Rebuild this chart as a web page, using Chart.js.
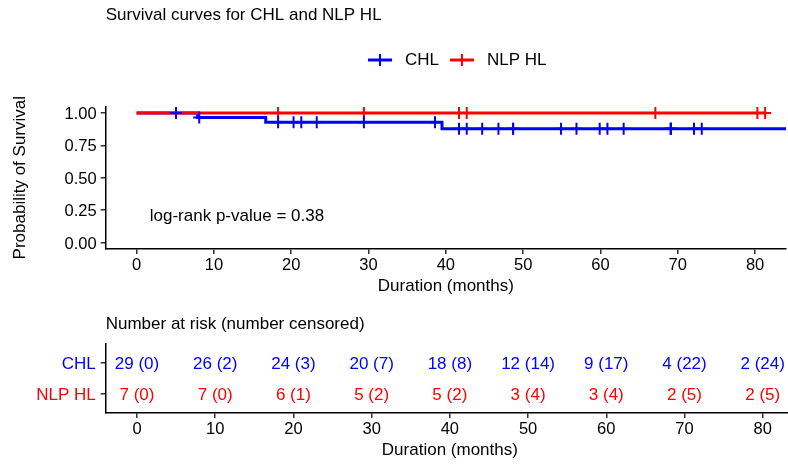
<!DOCTYPE html>
<html>
<head>
<meta charset="utf-8">
<script src="https://cdn.jsdelivr.net/npm/chart.js@4.4.0/dist/chart.umd.min.js"></script>
<style>
  html, body { margin: 0; padding: 0; background: #fff; overflow: hidden; }
  #wrap { position: relative; width: 788px; height: 464px; overflow: hidden; }
  .box { position: absolute; left: 0; width: 794px; }
  #top { top: 0; height: 300px; }
  #bottom { top: 300px; height: 164px; }
</style>
</head>
<body>
<div id="wrap">
  <div class="box" id="top"><canvas id="kmChart"></canvas></div>
  <div class="box" id="bottom"><canvas id="riskChart"></canvas></div>
</div>
<script>
// Groups
const groupNames = ['CHL', 'NLP HL'];
const groupColors = ['#0000ff', '#ff0000'];

// Kaplan-Meier steps (months, survival probability)
const chlTimes = [0, 7.9, 16.7, 39.5, 86];
const chlSurv = [1, 0.964, 0.927, 0.878, 0.878];
const nlpTimes = [0, 81.3];
const nlpSurv = [1, 1];

// Censoring times (months)
const chlCensorTimes = [5.1, 8.1, 18.3, 20.3, 21.3, 23.3, 29.4, 38.6, 41.7, 42.7, 44.7, 46.8, 48.7, 48.7,
  54.9, 56.9, 59.9, 60.9, 63.0, 69.1, 69.1, 69.1, 72.1, 73.1];
const nlpCensorTimes = [18.3, 29.4, 41.7, 42.7, 67.1, 80.3, 81.3];

// Number at risk table
const riskTimes = [0, 10, 20, 30, 40, 50, 60, 70, 80];
const chlAtRisk = [29, 26, 24, 20, 18, 12, 9, 4, 2];
const chlCensored = [0, 2, 3, 7, 8, 14, 17, 22, 24];
const nlpAtRisk = [7, 7, 6, 5, 5, 3, 3, 2, 2];
const nlpCensored = [0, 0, 1, 2, 2, 4, 4, 5, 5];

// Axis ticks
const timeTicks = [0, 10, 20, 30, 40, 50, 60, 70, 80];
const survTicks = [0, 0.25, 0.5, 0.75, 1];

const pValue = 0.38;

const FONT = '"Liberation Sans", Arial, Helvetica, sans-serif';
Chart.defaults.font.family = FONT;
Chart.defaults.font.size = 17;
Chart.defaults.color = '#000';

function survAt(times, surv, t) {
    let s = surv[0];
    for (let i = 0; i < times.length; i++) {
        if (times[i] <= t) s = surv[i];
    }
    return s;
}

function toPoints(xs, ys) {
    return xs.map((x, i) => ({ x: x, y: ys[i] }));
}

// shared x axis look (same for both panels)
function timeAxis() {
    return {
        type: 'linear',
        min: -4,
        max: 84,
        afterBuildTicks: s => { s.ticks = timeTicks.map(v => ({ value: v })); },
        afterFit: s => { s.height = 51; },
        border: { color: '#000', width: 1.5 },
        grid: { drawOnChartArea: false, drawTicks: true, tickLength: 5, color: '#333', lineWidth: 1.5 },
        ticks: { color: '#000', font: { size: 16.5 }, padding: 2, maxRotation: 0, autoSkip: false },
        title: { display: true, text: 'Duration (months)', color: '#000', font: { size: 17 }, padding: { top: 0, bottom: 3 } }
    };
}

// legend + p-value text for the survival panel
const kmExtras = {
    id: 'kmExtras',
    afterDraw(chart) {
        const ctx = chart.ctx;
        const xs = chart.scales.x, ys = chart.scales.y;
        ctx.save();
        ctx.font = '17px ' + FONT;
        ctx.textBaseline = 'middle';

        // legend
        let x = 368;
        const y = 60;
        groupNames.forEach((name, i) => {
            ctx.strokeStyle = groupColors[i];
            ctx.lineWidth = 3;
            ctx.beginPath();
            ctx.moveTo(x, y);
            ctx.lineTo(x + 24, y);
            ctx.stroke();
            ctx.lineWidth = 2;
            ctx.beginPath();
            ctx.moveTo(x + 12, y - 6);
            ctx.lineTo(x + 12, y + 6);
            ctx.stroke();
            x += 37;
            ctx.fillStyle = '#000';
            ctx.textAlign = 'left';
            ctx.fillText(name, x, y);
            x += ctx.measureText(name).width + 11;
        });

        // log-rank annotation
        ctx.fillStyle = '#000';
        ctx.textAlign = 'left';
        ctx.fillText('log-rank p-value = ' + pValue.toFixed(2), xs.getPixelForValue(1.7), ys.getPixelForValue(0.2));
        ctx.restore();
    }
};

const censorStyle = {
    showLine: false,
    pointStyle: 'cross',
    pointRadius: 6,
    pointBorderWidth: 2,
    order: 0
};

new Chart(document.getElementById('kmChart'), {
    type: 'line',
    data: {
        datasets: [
            {
                label: groupNames[0],
                data: toPoints(chlTimes, chlSurv),
                borderColor: groupColors[0],
                borderWidth: 3,
                stepped: 'before',
                pointRadius: 0,
                order: 2
            },
            {
                label: groupNames[1],
                data: toPoints(nlpTimes, nlpSurv),
                borderColor: groupColors[1],
                borderWidth: 3,
                stepped: 'before',
                pointRadius: 0,
                order: 1
            },
            Object.assign({
                label: groupNames[0] + ' censored',
                data: chlCensorTimes.map(t => ({ x: t, y: survAt(chlTimes, chlSurv, t) })),
                borderColor: groupColors[0],
                backgroundColor: groupColors[0]
            }, censorStyle),
            Object.assign({
                label: groupNames[1] + ' censored',
                data: nlpCensorTimes.map(t => ({ x: t, y: survAt(nlpTimes, nlpSurv, t) })),
                borderColor: groupColors[1],
                backgroundColor: groupColors[1]
            }, censorStyle)
        ]
    },
    options: {
        responsive: true,
        maintainAspectRatio: false,
        animation: false,
        layout: { padding: 0 },
        plugins: {
            legend: { display: false },
            tooltip: { enabled: false },
            title: {
                display: true,
                text: 'Survival curves for CHL and NLP HL',
                align: 'start',
                fullSize: false,
                color: '#000',
                font: { size: 17, weight: 'normal' },
                padding: { top: 5, bottom: 81 }
            }
        },
        scales: {
            x: timeAxis(),
            y: {
                type: 'linear',
                min: -0.05,
                max: 1.05,
                afterBuildTicks: s => { s.ticks = survTicks.map(v => ({ value: v })); },
                afterFit: s => { s.width = 105.7; },
                border: { color: '#000', width: 1.5 },
                grid: { drawOnChartArea: false, drawTicks: true, tickLength: 5, color: '#333', lineWidth: 1.5 },
                ticks: { color: '#000', font: { size: 16.5 }, padding: 4, labelOffset: 1.5, callback: v => v.toFixed(2) },
                title: { display: true, text: 'Probability of Survival', color: '#000', font: { size: 17 }, padding: { top: 10, bottom: 0 } }
            }
        }
    },
    plugins: [kmExtras]
});

// risk table: one dataset per group, text drawn at each point
const riskRows = [
    { name: groupNames[0], color: groupColors[0], row: 2, atRisk: chlAtRisk, censored: chlCensored },
    { name: groupNames[1], color: groupColors[1], row: 1, atRisk: nlpAtRisk, censored: nlpCensored }
];

const riskText = {
    id: 'riskText',
    afterDatasetsDraw(chart) {
        const ctx = chart.ctx;
        ctx.save();
        ctx.font = '17px ' + FONT;
        ctx.textAlign = 'center';
        ctx.textBaseline = 'middle';
        chart.data.datasets.forEach((ds, di) => {
            const meta = chart.getDatasetMeta(di);
            const r = riskRows[di];
            ctx.fillStyle = r.color;
            meta.data.forEach((pt, i) => {
                ctx.fillText(r.atRisk[i] + ' (' + r.censored[i] + ')', pt.x, pt.y + 1.5);
            });
        });
        ctx.restore();
    }
};

new Chart(document.getElementById('riskChart'), {
    type: 'scatter',
    data: {
        datasets: riskRows.map(r => ({
            label: r.name,
            data: riskTimes.map(t => ({ x: t, y: r.row })),
            pointRadius: 0
        }))
    },
    options: {
        responsive: true,
        maintainAspectRatio: false,
        animation: false,
        layout: { padding: 0 },
        plugins: {
            legend: { display: false },
            tooltip: { enabled: false },
            title: {
                display: true,
                text: 'Number at risk (number censored)',
                align: 'start',
                fullSize: false,
                color: '#000',
                font: { size: 17, weight: 'normal' },
                padding: { top: 14, bottom: 9 }
            }
        },
        scales: {
            x: timeAxis(),
            y: {
                type: 'linear',
                min: 0.4,
                max: 2.6,
                afterBuildTicks: s => { s.ticks = riskRows.map(r => ({ value: r.row })); },
                afterFit: s => { s.width = 105.7; },
                border: { color: '#000', width: 1.5 },
                grid: { drawOnChartArea: false, drawTicks: true, tickLength: 5, color: '#333', lineWidth: 1.5 },
                ticks: {
                    font: { size: 17 },
                    padding: 5,
                    labelOffset: 1.5,
                    callback: v => riskRows.find(r => r.row === v).name,
                    color: c => riskRows.find(r => r.row === c.tick.value).color
                }
            }
        }
    },
    plugins: [riskText]
});
</script>
</body>
</html>
